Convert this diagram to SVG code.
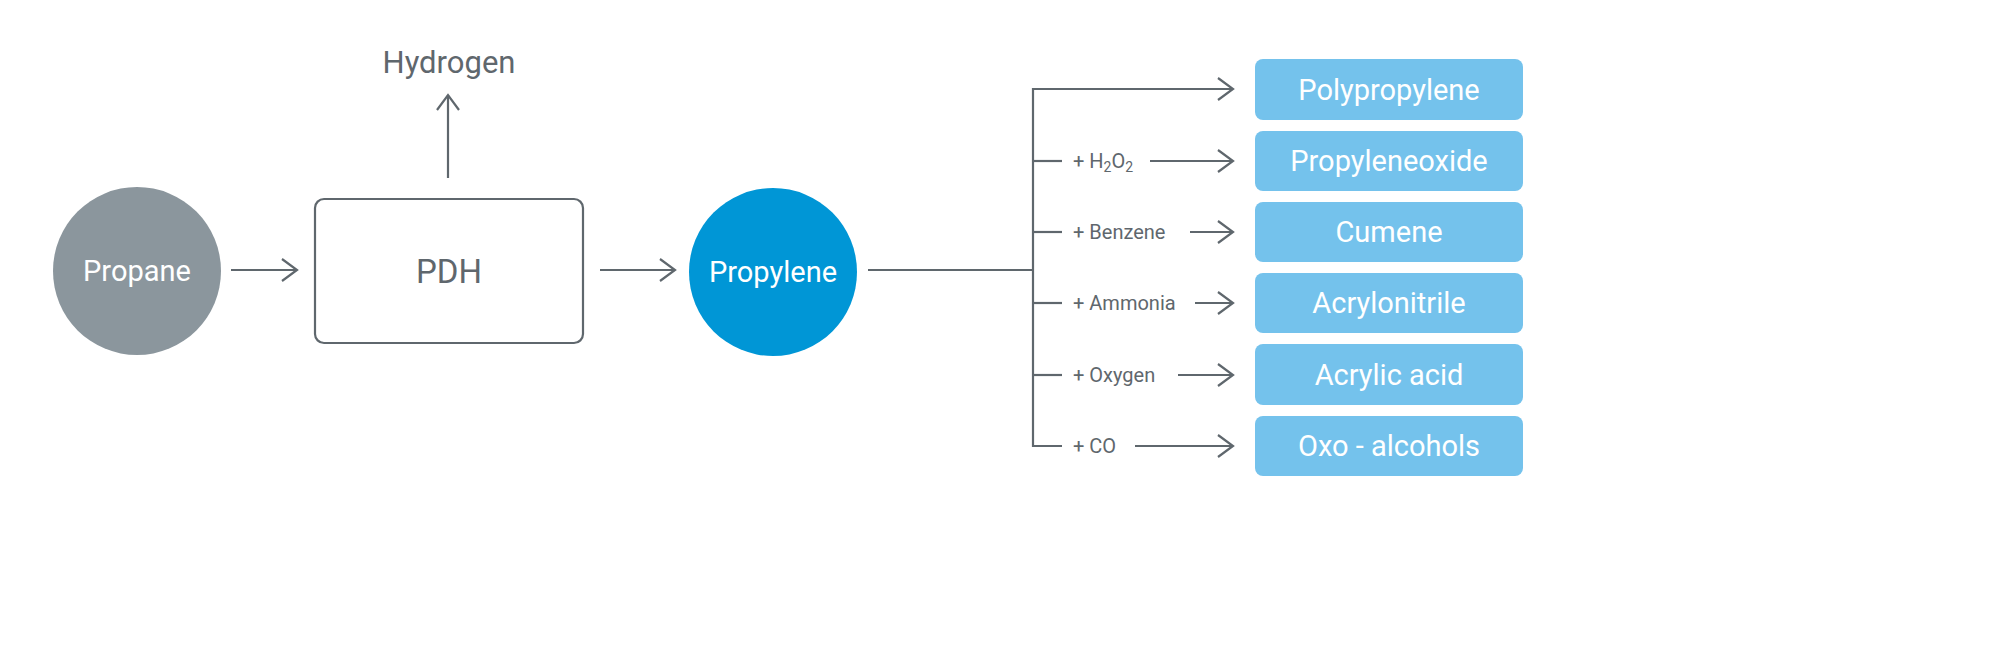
<svg xmlns="http://www.w3.org/2000/svg" width="1991" height="664" viewBox="0 0 1991 664">
<style>
.c{stroke:#5f676d;stroke-width:2.2;fill:none}
.t{font-family:"Roboto","Liberation Sans",sans-serif;fill:#5f676d}
.w{font-family:"Roboto","Liberation Sans",sans-serif;fill:#fff;font-size:29px;text-anchor:middle}
.lb{font-family:"Roboto","Liberation Sans",sans-serif;fill:#5f676d;font-size:20px}
.p{fill:#74c2ec}
</style>
<defs>
<marker id="a" markerWidth="20" markerHeight="30" refX="17" refY="12" orient="auto" markerUnits="userSpaceOnUse" viewBox="0 0 20 24">
<path d="M2 1 L17 12 L2 23" fill="none" stroke="#5f676d" stroke-width="2.2"/>
</marker>
</defs>
<rect width="1991" height="664" fill="#fff"/>
<g id="propane"><circle cx="137" cy="271" r="84" fill="#8b969d"/><text x="137" y="281" class="w" font-size="27">Propane</text></g>
<g id="pdh"><rect x="315" y="199" width="268" height="144" rx="9" fill="#fff" stroke="#5f676d" stroke-width="2.2"/><text x="449" y="283" class="t" font-size="33" text-anchor="middle">PDH</text></g>
<g id="hydrogen"><text x="449" y="73" class="t" font-size="31" text-anchor="middle">Hydrogen</text></g>
<g id="propylene"><circle cx="773" cy="272" r="84" fill="#0096d6"/><text x="773" y="282" class="w" font-size="27">Propylene</text></g>
<g id="pp"><rect class="p" x="1255" y="59" width="268" height="61" rx="8"/><text class="w" x="1389" y="100">Polypropylene</text></g>
<g id="po"><rect class="p" x="1255" y="131" width="268" height="60" rx="8"/><text class="w" x="1389" y="171">Propyleneoxide</text></g>
<g id="cumene"><rect class="p" x="1255" y="202" width="268" height="60" rx="8"/><text class="w" x="1389" y="242">Cumene</text></g>
<g id="acn"><rect class="p" x="1255" y="273" width="268" height="60" rx="8"/><text class="w" x="1389" y="313">Acrylonitrile</text></g>
<g id="aa"><rect class="p" x="1255" y="344" width="268" height="61" rx="8"/><text class="w" x="1389" y="385">Acrylic acid</text></g>
<g id="oxo"><rect class="p" x="1255" y="416" width="268" height="60" rx="8"/><text class="w" x="1389" y="456">Oxo - alcohols</text></g>
<g id="labels">
<text class="lb" x="1073" y="168">+ H<tspan font-size="14" dy="4">2</tspan><tspan dy="-4">O</tspan><tspan font-size="14" dy="4">2</tspan></text>
<text class="lb" x="1073" y="239">+ Benzene</text>
<text class="lb" x="1073" y="310">+ Ammonia</text>
<text class="lb" x="1073" y="382">+ Oxygen</text>
<text class="lb" x="1073" y="453">+ CO</text>
</g>
<g id="connectors">
<line class="c" x1="231" y1="270" x2="297" y2="270" marker-end="url(#a)"/>
<line class="c" x1="448" y1="178" x2="448" y2="95" marker-end="url(#a)"/>
<line class="c" x1="600" y1="270" x2="675" y2="270" marker-end="url(#a)"/>
<line class="c" x1="868" y1="270" x2="1033" y2="270"/>
<polyline class="c" points="1233,89 1033,89 1033,446 1062,446"/>
<line class="c" x1="1033" y1="161" x2="1062" y2="161"/>
<line class="c" x1="1033" y1="232" x2="1062" y2="232"/>
<line class="c" x1="1033" y1="303" x2="1062" y2="303"/>
<line class="c" x1="1033" y1="375" x2="1062" y2="375"/>
<line class="c" x1="1200" y1="89" x2="1233" y2="89" marker-end="url(#a)"/>
<line class="c" x1="1150" y1="161" x2="1233" y2="161" marker-end="url(#a)"/>
<line class="c" x1="1190" y1="232" x2="1233" y2="232" marker-end="url(#a)"/>
<line class="c" x1="1195" y1="303" x2="1233" y2="303" marker-end="url(#a)"/>
<line class="c" x1="1178" y1="375" x2="1233" y2="375" marker-end="url(#a)"/>
<line class="c" x1="1135" y1="446" x2="1233" y2="446" marker-end="url(#a)"/>
</g>
</svg>
